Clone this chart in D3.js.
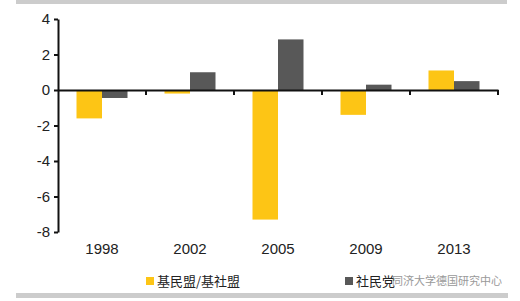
<!DOCTYPE html>
<html><head><meta charset="utf-8">
<script src="https://cdn.jsdelivr.net/npm/d3@7"></script>
<style>body{margin:0;background:#fff}svg{display:block}</style>
</head><body>
<script>
const categories = ["1998","2002","2005","2009","2013"];
const seriesNames = ["基民盟/基社盟","社民党"];
const cduValues = [-1.6, -0.2, -7.3, -1.4, 1.1];
const spdValues = [-0.45, 1.0, 2.85, 0.3, 0.5];
const yTicks = [4,2,0,-2,-4,-6,-8];
const colors = ["#FDC515","#585858"];

const W=520,H=301;
const svg=d3.select("body").append("svg").attr("width",W).attr("height",H);
svg.append("rect").attr("x",16).attr("y",0).attr("width",491).attr("height",4).attr("fill","#cccccc");
svg.append("rect").attr("x",16).attr("y",293).attr("width",492).attr("height",5).attr("fill","#cccccc");

const x=d3.scaleBand().domain(categories).range([58,498]);
const y=d3.scaleLinear().domain([-8,4]).range([232,19]);
const inner=d3.scaleBand().domain([0,1]).range([0,51]);

const data=categories.map((c,i)=>({c,v:[cduValues[i],spdValues[i]]}));
const g=svg.append("g");
data.forEach(d=>{
  d.v.forEach((v,k)=>{
    g.append("rect")
      .attr("x",x(d.c)+x.bandwidth()/2-25.5+inner(k))
      .attr("width",inner.bandwidth())
      .attr("y",y(Math.max(0,v)))
      .attr("height",Math.abs(y(v)-y(0)))
      .attr("fill",colors[k]);
  });
});

// y axis
const ya=svg.append("g").attr("transform","translate(58,0)")
  .call(d3.axisLeft(y).tickValues(yTicks).tickSize(4).tickSizeOuter(0).tickFormat(d=>String(d)));
ya.select(".domain").attr("stroke","#111").attr("stroke-width",2);
ya.selectAll(".tick line").attr("stroke","#111").attr("stroke-width",2);
ya.selectAll("text").attr("font-family","Liberation Sans, Arial, sans-serif").attr("font-size",15).attr("fill","#222").attr("x",-8);

// x axis at zero
const xa=svg.append("g").attr("transform",`translate(0,${y(0)})`)
  .call(d3.axisBottom(x).tickValues([]).tickSizeOuter(0));
xa.select(".domain").attr("stroke","#111").attr("stroke-width",2);
const bounds=[...categories.map(c=>x(c)),498].slice(1);
bounds.forEach(b=>{
  svg.append("line").attr("x1",b).attr("x2",b).attr("y1",y(0)).attr("y2",y(0)+5).attr("stroke","#111").attr("stroke-width",2);
});

// category labels
svg.append("g").selectAll("text").data(categories).join("text")
  .attr("x",d=>x(d)+x.bandwidth()/2).attr("y",254)
  .attr("text-anchor","middle").attr("font-family","Liberation Sans, Arial, sans-serif")
  .attr("font-size",15).attr("fill","#222").text(d=>d);

// legend
const lg=[{x:146,name:seriesNames[0],c:colors[0]},{x:345,name:seriesNames[1],c:colors[1]}];
lg.forEach(l=>{
  svg.append("rect").attr("x",l.x).attr("y",277).attr("width",8).attr("height",8).attr("fill",l.c);
  svg.append("text").attr("x",l.x+11).attr("y",286).attr("font-family","Noto Sans CJK SC, sans-serif")
    .attr("font-size",13).attr("fill","#222").text(l.name);
});
// watermark
svg.append("text").attr("x",392).attr("y",285).attr("font-family","Noto Sans CJK SC, sans-serif")
  .attr("font-size",11).attr("fill","#888").attr("opacity",0.85).text("同济大学德国研究中心");
</script>
</body></html>
